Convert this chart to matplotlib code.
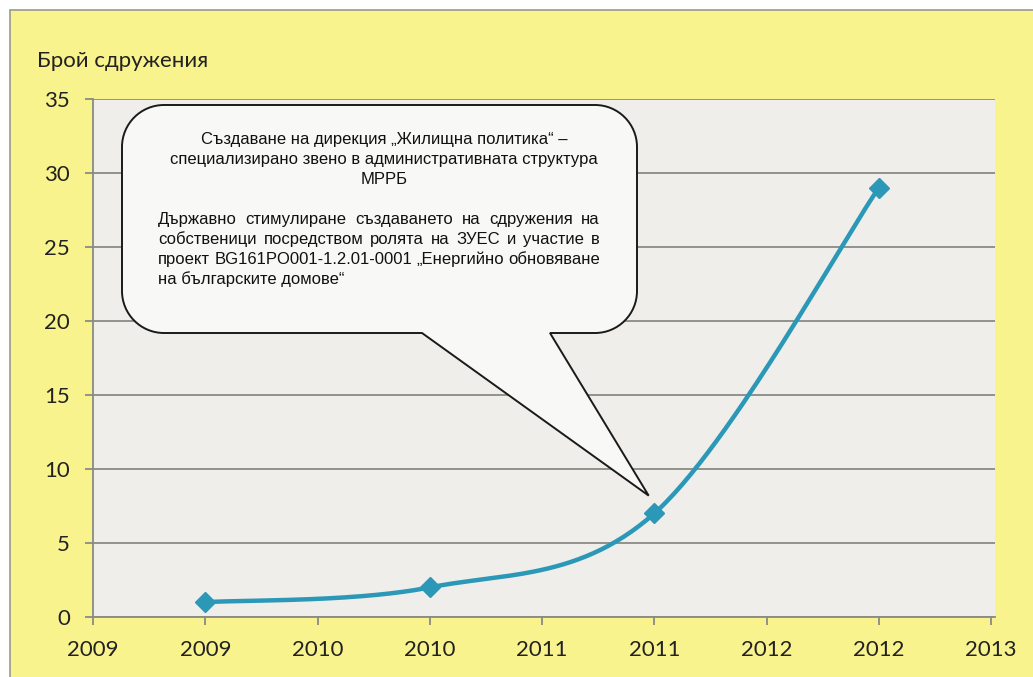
import numpy as np
import matplotlib
matplotlib.use("Agg")
import matplotlib.pyplot as plt
from matplotlib.path import Path
from matplotlib.patches import PathPatch, Rectangle
from matplotlib import font_manager

# данни
years = ["2009", "2010", "2011", "2012"]
counts = [1, 2, 7, 29]
tick_labels = ["2009", "2009", "2010", "2010", "2011", "2011", "2012", "2012", "2013"]
y_ticks = [0, 5, 10, 15, 20, 25, 30, 35]
y_title = "Брой сдружения"
note_head = ["Създаване на дирекция „Жилищна политика“ –",
             "специализирано звено в административната структура",
             "МРРБ"]
note_body = ["Държавно стимулиране създаването на сдружения на",
             "собственици посредством ролята на ЗУЕС и участие в",
             "проект BG161PO001-1.2.01-0001 „Енергийно обновяване",
             "на българските домове“"]

W, H = 1033, 677
yellow = "#F9F38D"
plot_bg = "#EFEEEA"
teal = "#2B98B8"
grid_c = "#8A8A86"
txt_c = "#222222"

names = {f.name for f in font_manager.fontManager.ttflist}
note_font = "Liberation Sans Narrow" if "Liberation Sans Narrow" in names else "Liberation Sans"
note_size = 13.5 if note_font == "Liberation Sans Narrow" else 12
axis_font = ["Lato", "Open Sans", "DejaVu Sans"]


def fx(x):
    return x / W


def fy(y):
    return 1 - y / H


# Excel-подобна изгладена линия (Catmull-Rom през Безие)
def smooth(xs, ys, n=60):
    P = np.column_stack([xs, ys]).astype(float)
    P = np.vstack([P[0], P, P[-1]])
    out = []
    for i in range(1, len(P) - 2):
        p0, p1, p2, p3 = P[i - 1], P[i], P[i + 1], P[i + 2]
        c1 = p1 + (p2 - p0) / 6
        c2 = p2 - (p3 - p1) / 6
        t = np.linspace(0, 1, n)[:, None]
        out.append((1 - t) ** 3 * p1 + 3 * (1 - t) ** 2 * t * c1
                   + 3 * (1 - t) * t ** 2 * c2 + t ** 3 * p2)
    return np.vstack(out)


fig = plt.figure(figsize=(W / 100, H / 100), dpi=100)
fig.patch.set_facecolor("white")
fig.add_artist(Rectangle((fx(10), -0.01), 1, fy(10) + 0.01, transform=fig.transFigure,
                         facecolor=yellow, edgecolor="#9A9A8A", lw=1.2, zorder=-10))

ax = fig.add_axes([fx(93), 1 - 617 / H, fx(995 - 93), (617 - 99) / H])
ax.set_facecolor(plot_bg)

xpos = [2 * (int(y) - 2009) + 1 for y in years]
curve = smooth(xpos, counts)
ax.plot(curve[:, 0], curve[:, 1], color=teal, lw=3.2, solid_capstyle="round", zorder=3)
ax.plot(xpos, counts, ls="none", marker="D", ms=10.5, color=teal, zorder=4)

ax.set_xlim(0, 8.035)
ax.set_ylim(0, 35)
ax.set_xticks(range(len(tick_labels)))
ax.set_xticklabels(tick_labels)
ax.set_yticks(y_ticks)
ax.grid(axis="y", color=grid_c, lw=1.3)
ax.set_axisbelow(True)
for s in ["top", "right"]:
    ax.spines[s].set_visible(False)
for s in ["left", "bottom"]:
    ax.spines[s].set_color(grid_c)
    ax.spines[s].set_linewidth(1.3)
ax.tick_params(axis="both", direction="out", length=5.5, width=1.3, color=grid_c,
               labelsize=16, labelcolor=txt_c)
ax.tick_params(axis="y", pad=11)
ax.tick_params(axis="x", pad=11)
for lab in ax.get_xticklabels() + ax.get_yticklabels():
    lab.set_family(axis_font)

fig.text(fx(37), fy(61), y_title, fontsize=16, family=axis_font, color=txt_c,
         ha="left", va="center")

# балон с коментар
fig.canvas.draw()
tip = ax.transData.transform((4.95, 8.2))
L, R, T, B = 122, 637, 105, 333
r = 42
k = 0.5523 * r
tl, tr = 422, 550
pts = [
    ((L + r, T), Path.MOVETO),
    ((R - r, T), Path.LINETO),
    ((R - r + k, T), Path.CURVE4), ((R, T + r - k), Path.CURVE4), ((R, T + r), Path.CURVE4),
    ((R, B - r), Path.LINETO),
    ((R, B - r + k), Path.CURVE4), ((R - r + k, B), Path.CURVE4), ((R - r, B), Path.CURVE4),
    ((tr, B), Path.LINETO),
    ((tip[0], H - tip[1]), Path.LINETO),
    ((tl, B), Path.LINETO),
    ((L + r, B), Path.LINETO),
    ((L + r - k, B), Path.CURVE4), ((L, B - r + k), Path.CURVE4), ((L, B - r), Path.CURVE4),
    ((L, T + r), Path.LINETO),
    ((L, T + r - k), Path.CURVE4), ((L + r - k, T), Path.CURVE4), ((L + r, T), Path.CURVE4),
    ((L + r, T), Path.CLOSEPOLY),
]
verts = [(fx(p[0]), fy(p[1])) for p, c in pts]
codes = [c for p, c in pts]
fig.add_artist(PathPatch(Path(verts, codes), transform=fig.transFigure,
                         facecolor="#F8F8F6", edgecolor="#1A1A1A", lw=1.4, zorder=5))

for i, line in enumerate(note_head):
    fig.text(fx(384), fy(144 + 20 * i), line, fontsize=note_size, family=note_font,
             color="#111111", ha="center", va="baseline", zorder=6)

renderer = fig.canvas.get_renderer()
left, right = 158, 600
for i, line in enumerate(note_body):
    base = fy(224 + 20 * i)
    if i == len(note_body) - 1:
        fig.text(fx(left), base, line, fontsize=note_size, family=note_font,
                 color="#111111", ha="left", va="baseline", zorder=6)
        continue
    words = line.split(" ")
    items = [fig.text(0, base, w, fontsize=note_size, family=note_font,
                      color="#111111", ha="left", va="baseline", zorder=6) for w in words]
    widths = [t.get_window_extent(renderer).width for t in items]
    gap = (right - left - sum(widths)) / (len(words) - 1)
    x = left
    for t, w in zip(items, widths):
        t.set_x(fx(x))
        x += w + gap

fig.savefig("out.png", dpi=100, facecolor=fig.get_facecolor())
